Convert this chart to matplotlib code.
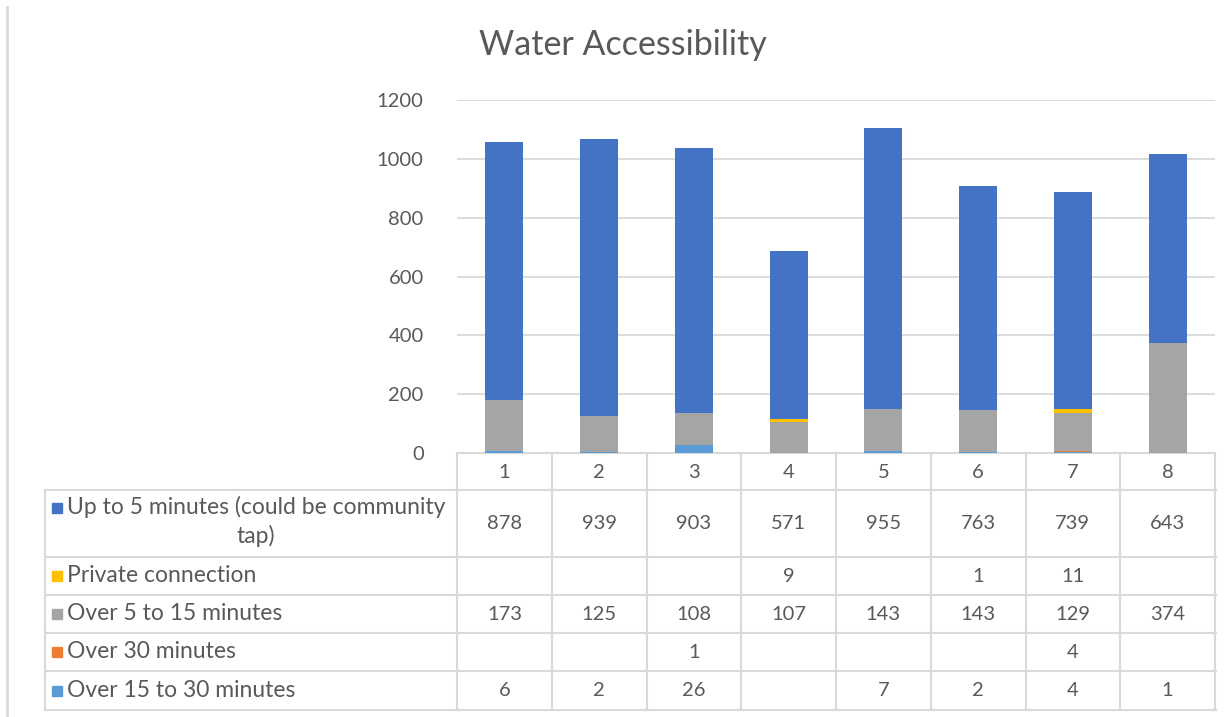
import numpy as np
import matplotlib.pyplot as plt
from matplotlib.lines import Line2D
from matplotlib.patches import Rectangle
import matplotlib.transforms as mtransforms

plt.rcParams['font.family'] = ['Lato', 'DejaVu Sans']

categories = ['1', '2', '3', '4', '5', '6', '7', '8']
# series, bottom of the stack first
series_names = ['Over 15 to 30 minutes', 'Over 30 minutes', 'Over 5 to 15 minutes',
                'Private connection', 'Up to 5 minutes (could be community\ntap)']
over_15_30 = [6, 2, 26, None, 7, 2, 4, 1]
over_30 = [None, None, 1, None, None, None, 4, None]
over_5_15 = [173, 125, 108, 107, 143, 143, 129, 374]
private = [None, None, None, 9, None, 1, 11, None]
up_to_5 = [878, 939, 903, 571, 955, 763, 739, 643]
series_vals = [over_15_30, over_30, over_5_15, private, up_to_5]
colors = ['#5B9BD5', '#ED7D31', '#A5A5A5', '#FFC000', '#4472C4']

W, H = 1226, 717
txt = '#595959'
grid = '#D9D9D9'

def fx(p):
    return p / W

def fy(p):
    return 1 - p / H

fig = plt.figure(figsize=(W / 100, H / 100), dpi=100)
ax = fig.add_axes([fx(457), fy(453), fx(1215) - fx(457), fy(100) - fy(453)])

x = np.arange(len(categories))
bottom = np.zeros(len(categories))
for vals, c in zip(series_vals, colors):
    v = np.array([0 if a is None else a for a in vals], dtype=float)
    ax.bar(x, v, width=0.4, bottom=bottom, color=c, zorder=3)
    bottom += v

ax.set_xlim(-0.5, len(categories) - 0.5)
ax.set_ylim(0, 1200)
ax.set_yticks(range(0, 1201, 200))
ax.yaxis.grid(True, color=grid, linewidth=1.3, zorder=0)
ax.set_xticks([])
for s in ['top', 'right', 'left']:
    ax.spines[s].set_visible(False)
ax.spines['bottom'].set_color(grid)
ax.spines['bottom'].set_linewidth(1.5)
ax.tick_params(axis='y', length=0, pad=24, labelsize=14.5, labelcolor=txt)

fig.text(fx(623), fy(45), 'Water Accessibility', ha='center', va='center',
         fontsize=24.5, color=txt)

# data table under the plot
tr = mtransforms.blended_transform_factory(ax.transData, fig.transFigure)
row_edges = [453, 490, 557, 595, 633, 671, 710]
lw = 1.5
# horizontal lines
for i, yy in enumerate(row_edges[1:]):
    fig.add_artist(Line2D([fx(45), fx(1216)], [fy(yy), fy(yy)], color=grid, lw=lw))
# vertical lines
fig.add_artist(Line2D([fx(45), fx(45)], [fy(490), fy(710)], color=grid, lw=lw))
for k in range(len(categories) + 1):
    fig.add_artist(Line2D([k - 0.5, k - 0.5], [fy(453), fy(710)], color=grid, lw=lw,
                          transform=tr))

for k, c in enumerate(categories):
    fig.text(k, fy(472), c, ha='center', va='center', fontsize=14.5, color=txt,
             transform=tr)

rows = list(range(len(series_names)))[::-1]
for r, si in enumerate(rows):
    y0, y1 = row_edges[r + 1], row_edges[r + 2]
    yc = (y0 + y1) / 2
    name = series_names[si]
    if '\n' in name:
        fig.text(fx(67), fy(y0 + 6), name, ha='left', va='top', fontsize=16.5,
                 color=txt, multialignment='center', linespacing=1.4)
        ky = y0 + 18
    else:
        fig.text(fx(67), fy(yc), name, ha='left', va='center', fontsize=16.5,
                 color=txt)
        ky = yc
    fig.add_artist(Rectangle((fx(52), fy(ky + 5)), fx(10), 10 / H,
                             color=colors[si], transform=fig.transFigure))
    for k, v in enumerate(series_vals[si]):
        if v is not None:
            fig.text(k, fy(yc), str(v), ha='center', va='center', fontsize=14.5,
                     color=txt, transform=tr)

# outer chart border on the left
fig.add_artist(Line2D([fx(7), fx(7)], [fy(7), 0], color=grid, lw=2))

fig.savefig('out.png', dpi=100)
